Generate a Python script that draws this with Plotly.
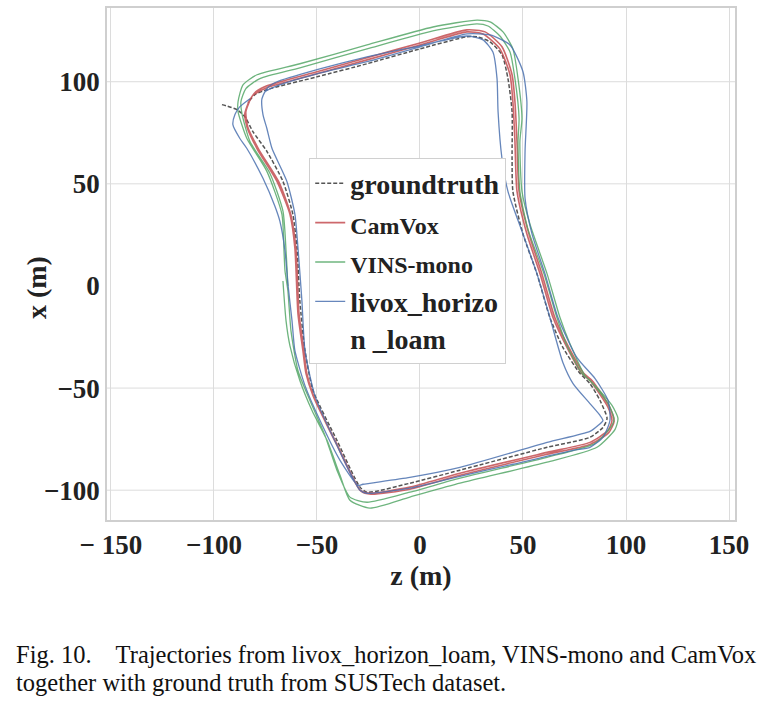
import plotly.graph_objects as go

# Trajectories (z, x in metres)
gt_z = [-96.1, -88.8, -85.0, -81.1, -74.3, -66.5, -61.7, -59.7, -58.3, -55.8, -51.9, -40.3, -29.1, -25.7,
        -4.9, 19.4, 61.7, 82.5, 88.8, 90.8, 87.4, 82.5, 77.7, 69.4, 63.1, 56.8, 50.0, 45.1, 44.7, 44.7,
        42.7, 39.8, 34.0, 27.7, 22.8, 0.0, -25.7, -50.0, -74.3, -80.1, -83.5]
gt_x = [88.8, 86.3, 82.9, 75.6, 65.9, 51.2, 35.1, 18.5, -7.3, -31.7, -51.2, -75.6, -98.5, -101.0,
        -96.6, -90.2, -79.0, -74.1, -69.3, -64.9, -56.1, -47.8, -42.9, -30.2, -15.6, 5.9, 25.4, 46.3,
        62.4, 85.4, 101.5, 113.2, 119.5, 122.0, 122.0, 116.1, 108.8, 102.4, 96.1, 93.7, 89.8]

camvox_lap1_z = [-82.5, -85.0, -84.0, -79.1, -69.4, -63.1, -60.7, -59.2, -56.8, -55.3, -51.9, -40.3, -29.1,
                 -24.3, -4.9, 19.4, 61.7, 82.5, 91.3, 93.2, 91.3, 82.5, 78.6, 71.4, 64.6, 58.3, 51.9, 47.1,
                 46.1, 45.1, 43.7, 38.8, 30.6, 22.8, 0.0, -25.7, -50.0, -74.3, -80.1]
camvox_lap1_x = [91.7, 84.4, 78.0, 67.3, 51.2, 35.1, 18.5, -13.7, -31.7, -42.9, -53.7, -78.0, -100.0,
                 -101.5, -98.5, -91.7, -81.5, -76.6, -70.7, -65.9, -59.5, -46.3, -42.9, -30.2, -15.6, 5.9,
                 25.4, 46.3, 70.7, 90.2, 103.4, 116.1, 123.4, 124.4, 118.0, 110.7, 103.9, 97.1, 94.1]
camvox_lap2_z = [-81.6, -84.5, -83.5, -78.2, -68.4, -62.6, -60.2, -58.7, -56.3, -54.9, -51.5, -39.8, -28.6,
                 -23.8, -4.9, 19.4, 61.7, 82.5, 91.7, 94.2, 92.2, 83.5, 79.6, 72.3, 65.5, 59.2, 52.9, 48.1,
                 47.1, 46.1, 44.7, 39.8, 31.6, 22.8, 0.0, -25.7, -50.0, -74.3, -79.6, -81.6]
camvox_lap2_x = [92.7, 85.4, 77.6, 66.8, 50.7, 34.6, 18.0, -13.7, -31.7, -42.9, -54.1, -78.5, -100.5,
                 -102.0, -99.5, -92.7, -82.4, -77.6, -71.7, -66.3, -59.5, -46.3, -42.9, -30.2, -15.6, 5.9,
                 25.4, 46.3, 70.7, 90.2, 103.4, 117.1, 124.4, 125.4, 119.0, 111.7, 104.9, 98.0, 95.1, 92.7]

vins_lap1_z = [-66.5, -65.0, -63.1, -58.3, -52.4, -45.1, -38.8, -34.0, -24.3, -4.9, 19.4, 61.7, 85.9, 94.7,
               96.1, 93.2, 85.0, 80.1, 72.8, 68.0, 61.7, 53.4, 49.5, 48.5, 49.5, 47.6, 45.1, 40.3, 34.0,
               27.7, 6.3, -25.7, -58.3, -79.1, -85.9, -88.3, -88.3, -84.0, -74.3, -67.0, -66.0, -65.5]
vins_lap1_x = [2.4, -17.1, -29.3, -46.3, -61.0, -75.6, -92.7, -104.9, -108.8, -103.4, -96.6, -86.3, -79.0,
               -70.2, -64.9, -58.5, -48.8, -43.9, -28.3, -15.6, 5.9, 30.2, 46.3, 70.7, 82.0, 101.5, 116.1,
               124.4, 129.3, 130.2, 126.8, 118.0, 108.8, 103.4, 98.5, 90.2, 85.4, 72.2, 56.1, 35.1, 17.1, 7.3]
vins_lap2_z = [-64.1, -62.6, -59.2, -53.4, -46.1, -40.3, -34.0, -25.7, -4.9, 19.4, 61.7, 85.0, 93.2, 94.2,
               91.3, 82.5, 78.6, 71.4, 66.5, 60.2, 52.4, 48.5, 47.6, 48.1, 46.1, 43.7, 38.8, 33.0, 27.7,
               6.3, -25.7, -58.3, -77.7, -84.5, -86.9, -86.4, -82.5, -72.8, -66.5, -65.0, -64.1]
vins_lap2_x = [-2.4, -22.0, -41.5, -56.1, -73.2, -90.2, -103.4, -105.9, -101.0, -94.1, -83.9, -77.1, -68.3,
               -64.9, -57.6, -46.3, -42.9, -29.3, -15.6, 5.9, 27.8, 46.3, 70.7, 82.0, 101.5, 114.6, 122.4,
               127.3, 128.3, 124.9, 116.1, 106.8, 101.5, 96.6, 90.2, 84.4, 70.7, 55.1, 36.6, 17.1, 0.0]

livox_lap1_z = [-82.5, -87.4, -89.8, -90.8, -87.4, -84.0, -76.2, -70.4, -68.0, -65.5, -64.1, -62.1, -60.7,
                -55.8, -48.5, -38.8, -30.1, -27.7, -4.9, 19.4, 61.7, 82.5, 86.4, 88.8, 87.4, 82.5, 74.3,
                69.4, 63.1, 56.8, 49.5, 42.7, 39.8, 37.9, 37.4, 35.4, 30.6, 22.8, 0.0, -25.7, -50.0, -69.4,
                -74.0]
livox_lap1_x = [91.7, 87.8, 83.9, 79.0, 72.2, 67.3, 52.7, 39.0, 31.7, 17.1, 1.0, -17.1, -31.7, -48.8,
                -65.9, -85.4, -97.6, -97.1, -93.7, -88.8, -76.6, -71.2, -68.3, -65.9, -63.4, -57.6, -47.8,
                -37.6, -15.6, 5.9, 26.8, 46.3, 62.4, 85.4, 101.5, 114.6, 120.5, 122.4, 117.6, 112.2, 105.9,
                100.0, 97.0]
livox_lap2_z = [-76.7, -76.2, -74.3, -71.8, -64.6, -60.7, -59.2, -57.3, -55.8, -51.0, -40.3, -29.1, -25.7,
                -4.9, 19.4, 45.1, 74.3, 82.5, 88.8, 92.2, 91.3, 85.0, 76.2, 67.0, 60.7, 54.4, 51.0, 51.0,
                51.9, 50.0, 43.7, 34.0, 22.8, 0.0, -25.7, -50.0, -69.4, -75.2, -76.7]
livox_lap2_x = [91.7, 83.9, 77.1, 67.3, 51.2, 35.1, 18.5, -7.3, -31.7, -53.7, -78.0, -100.0, -101.5,
                -99.0, -93.2, -87.3, -80.5, -79.0, -74.1, -65.9, -56.1, -45.4, -35.1, -15.6, 5.9, 25.4,
                42.9, 65.9, 90.2, 104.9, 118.0, 122.9, 123.4, 117.1, 109.8, 103.9, 98.0, 95.1, 91.7]

z_ticks = [-150, -100, -50, 0, 50, 100, 150]
z_ticktext = ["\u2212 150", "\u2212100", "\u221250", "0", "50", "100", "150"]
x_ticks = [-100, -50, 0, 50, 100]
x_ticktext = ["\u2212100", "\u221250", "0", "50", "100"]
x_grid = [-100, -50, 50, 100]

SERIF = "Liberation Serif"
GRID = "#dcdcdc"

fig = go.Figure()

fig.add_trace(go.Scatter(
    x=gt_z, y=gt_x, mode="lines", name="groundtruth",
    line=dict(color="#555555", width=1.5, dash="4px,2px", shape="spline", smoothing=0.6),
))
fig.add_trace(go.Scatter(
    x=camvox_lap1_z + camvox_lap2_z, y=camvox_lap1_x + camvox_lap2_x, mode="lines",
    name="<span style='font-size:24px'>CamVox</span>",
    line=dict(color="#C44E52", width=1.6, shape="spline", smoothing=0.6), opacity=0.85,
))
fig.add_trace(go.Scatter(
    x=vins_lap1_z + vins_lap2_z, y=vins_lap1_x + vins_lap2_x, mode="lines",
    name="<span style='font-size:24px'>VINS-mono</span>",
    line=dict(color="#55A868", width=1.3, shape="spline", smoothing=0.6), opacity=0.85,
))
fig.add_trace(go.Scatter(
    x=livox_lap1_z + livox_lap2_z, y=livox_lap1_x + livox_lap2_x, mode="lines",
    name="livox_horizo<br>n _loam",
    line=dict(color="#4C72B0", width=1.3, shape="spline", smoothing=0.6), opacity=0.85,
))

# no gridline at x = 0 in the original
for v in x_grid:
    fig.add_hline(y=v, line=dict(color=GRID, width=1), layer="below")

fig.update_layout(
    width=775, height=704,
    margin=dict(l=107, r=40, t=6, b=184),
    paper_bgcolor="white", plot_bgcolor="white",
    font=dict(family=SERIF, color="#222222"),
    showlegend=True,
    legend=dict(
        x=0.322, y=0.708, xanchor="left", yanchor="top", valign="top",
        bgcolor="white", bordercolor="#d0d0d0", borderwidth=1,
        font=dict(family=SERIF, size=28, color="#222222", weight="bold"),
        tracegroupgap=0,
    ),
    xaxis=dict(
        range=[-151.9, 152.9], tickvals=z_ticks, ticktext=z_ticktext,
        showgrid=True, gridcolor=GRID, gridwidth=1, zeroline=False,
        showline=True, mirror=True, linecolor="#cfcfcf", linewidth=1.5,
        ticks="", tickfont=dict(family=SERIF, size=27, weight="bold"),
        title=dict(text="z (m)", font=dict(family=SERIF, size=28, weight="bold"), standoff=6),
    ),
    yaxis=dict(
        range=[-114.6, 136.1], tickvals=x_ticks, ticktext=x_ticktext,
        showgrid=False, zeroline=False,
        showline=True, mirror=True, linecolor="#cfcfcf", linewidth=1.5,
        ticks="", tickfont=dict(family=SERIF, size=27, weight="bold"),
    ),
    annotations=[
        dict(text="x (m)", textangle=-90, xref="paper", yref="paper", x=-0.113, y=0.453,
             xanchor="center", yanchor="middle", showarrow=False,
             font=dict(family=SERIF, size=28, weight="bold", color="#222222")),
        dict(text="Fig. 10.\u00a0\u00a0\u00a0 Trajectories from livox_horizon_loam, VINS-mono and CamVox",
             xref="paper", yref="paper", x=-0.148, y=-0.2626, xanchor="left", yanchor="middle",
             showarrow=False, font=dict(family=SERIF, size=24.5, color="#111111")),
        dict(text="together with ground truth from SUSTech dataset.",
             xref="paper", yref="paper", x=-0.148, y=-0.317, xanchor="left", yanchor="middle",
             showarrow=False, font=dict(family=SERIF, size=24.5, color="#111111")),
    ],
)

fig.write_html("out.html", config={"displayModeBar": False},
               post_script="document.body.style.margin='0';")
